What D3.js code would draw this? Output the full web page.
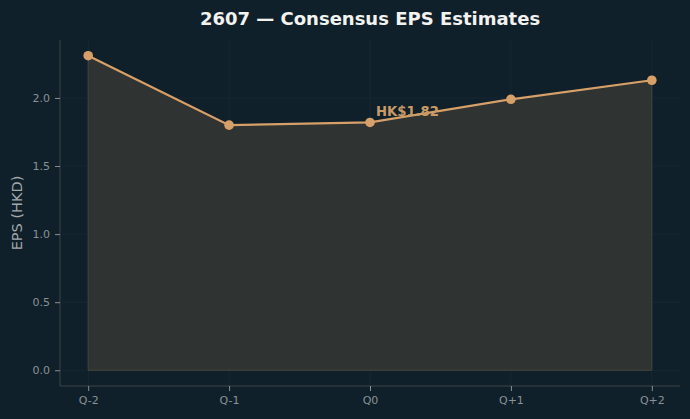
<!DOCTYPE html>
<html><head><meta charset="utf-8">
<script src="https://cdn.jsdelivr.net/npm/d3@7/dist/d3.min.js"></script>
<style>body{margin:0;background:#10202a;}svg{display:block;}</style>
</head><body>
<script>
const categories = ["Q-2","Q-1","Q0","Q+1","Q+2"];
const epsValues = [2.31, 1.80, 1.82, 1.99, 2.13];
const yTicks = [0.0, 0.5, 1.0, 1.5, 2.0];
const annotationText = "HK$1.82";
const annotationIndex = 2;

const W = 690, H = 419;
const m = {l:60, r:10, t:40, b:33};
const svg = d3.select("body").append("svg").attr("width",W).attr("height",H);
svg.append("rect").attr("width",W).attr("height",H).attr("fill","#10202a");

const x = d3.scaleLinear().domain([-0.2, categories.length-1+0.2]).range([m.l, W-m.r]);
const ymax = d3.max(epsValues);
const y = d3.scaleLinear().domain([-0.05*ymax, ymax*1.05]).range([H-m.b, m.t]);

const g = svg.append("g");
// grid
g.selectAll(".gx").data(categories).enter().append("line")
  .attr("x1",(d,i)=>x(i)).attr("x2",(d,i)=>x(i)).attr("y1",m.t).attr("y2",H-m.b)
  .attr("stroke","#1b2a33").attr("stroke-width",0.8);
g.selectAll(".gy").data(yTicks).enter().append("line")
  .attr("x1",m.l).attr("x2",W-m.r).attr("y1",d=>y(d)).attr("y2",d=>y(d))
  .attr("stroke","#1b2a33").attr("stroke-width",0.8);

// area
const area = d3.area().x((d,i)=>x(i)).y0(y(0)).y1(d=>y(d));
g.append("path").datum(epsValues).attr("d",area)
  .attr("fill","#2f3433").attr("stroke","#45443c").attr("stroke-width",1);

// line
const line = d3.line().x((d,i)=>x(i)).y(d=>y(d));
g.append("path").datum(epsValues).attr("d",line)
  .attr("fill","none").attr("stroke","#d7a068").attr("stroke-width",2.2);
g.selectAll(".pt").data(epsValues).enter().append("circle")
  .attr("cx",(d,i)=>x(i)).attr("cy",d=>y(d)).attr("r",4.8).attr("fill","#d7a068");

// annotation
g.append("text").attr("x",x(annotationIndex)+6).attr("y",y(epsValues[annotationIndex])-6)
  .text(annotationText).attr("fill","#c89a66").attr("font-family","DejaVu Sans")
  .attr("font-weight","bold").attr("font-size",13.2);

// axes
const xAxis = d3.axisBottom(x).tickValues(d3.range(categories.length)).tickFormat(i=>categories[i]).tickSize(5).tickPadding(5);
const yAxis = d3.axisLeft(y).tickValues(yTicks).tickFormat(d3.format(".1f")).tickSize(5).tickPadding(5);
const ax = svg.append("g").attr("transform",`translate(0,${H-m.b})`).call(xAxis);
const ay = svg.append("g").attr("transform",`translate(${m.l},0)`).call(yAxis);
ax.select(".domain").attr("d",`M${m.l},0H${W-m.r}`);
ay.select(".domain").attr("d",`M0,${m.t}V${H-m.b}`);
[ax,ay].forEach(a=>{
  a.select(".domain").attr("stroke","#3d4447");
  a.selectAll(".tick line").attr("stroke","#8a8f93");
  a.selectAll(".tick text").attr("fill","#8a9197").attr("font-family","DejaVu Sans").attr("font-size",11);
});

svg.append("text").attr("x",(m.l+W-m.r)/2).attr("y",24.5).attr("text-anchor","middle")
  .text("2607 — Consensus EPS Estimates").attr("fill","#f2f2f0")
  .attr("font-family","DejaVu Sans").attr("font-weight","bold").attr("font-size",18);
svg.append("text").attr("transform",`translate(22,${(m.t+H-m.b)/2}) rotate(-90)`)
  .attr("text-anchor","middle").text("EPS (HKD)").attr("fill","#a3a8ac")
  .attr("font-family","DejaVu Sans").attr("font-size",14.5);
</script>
</body></html>
